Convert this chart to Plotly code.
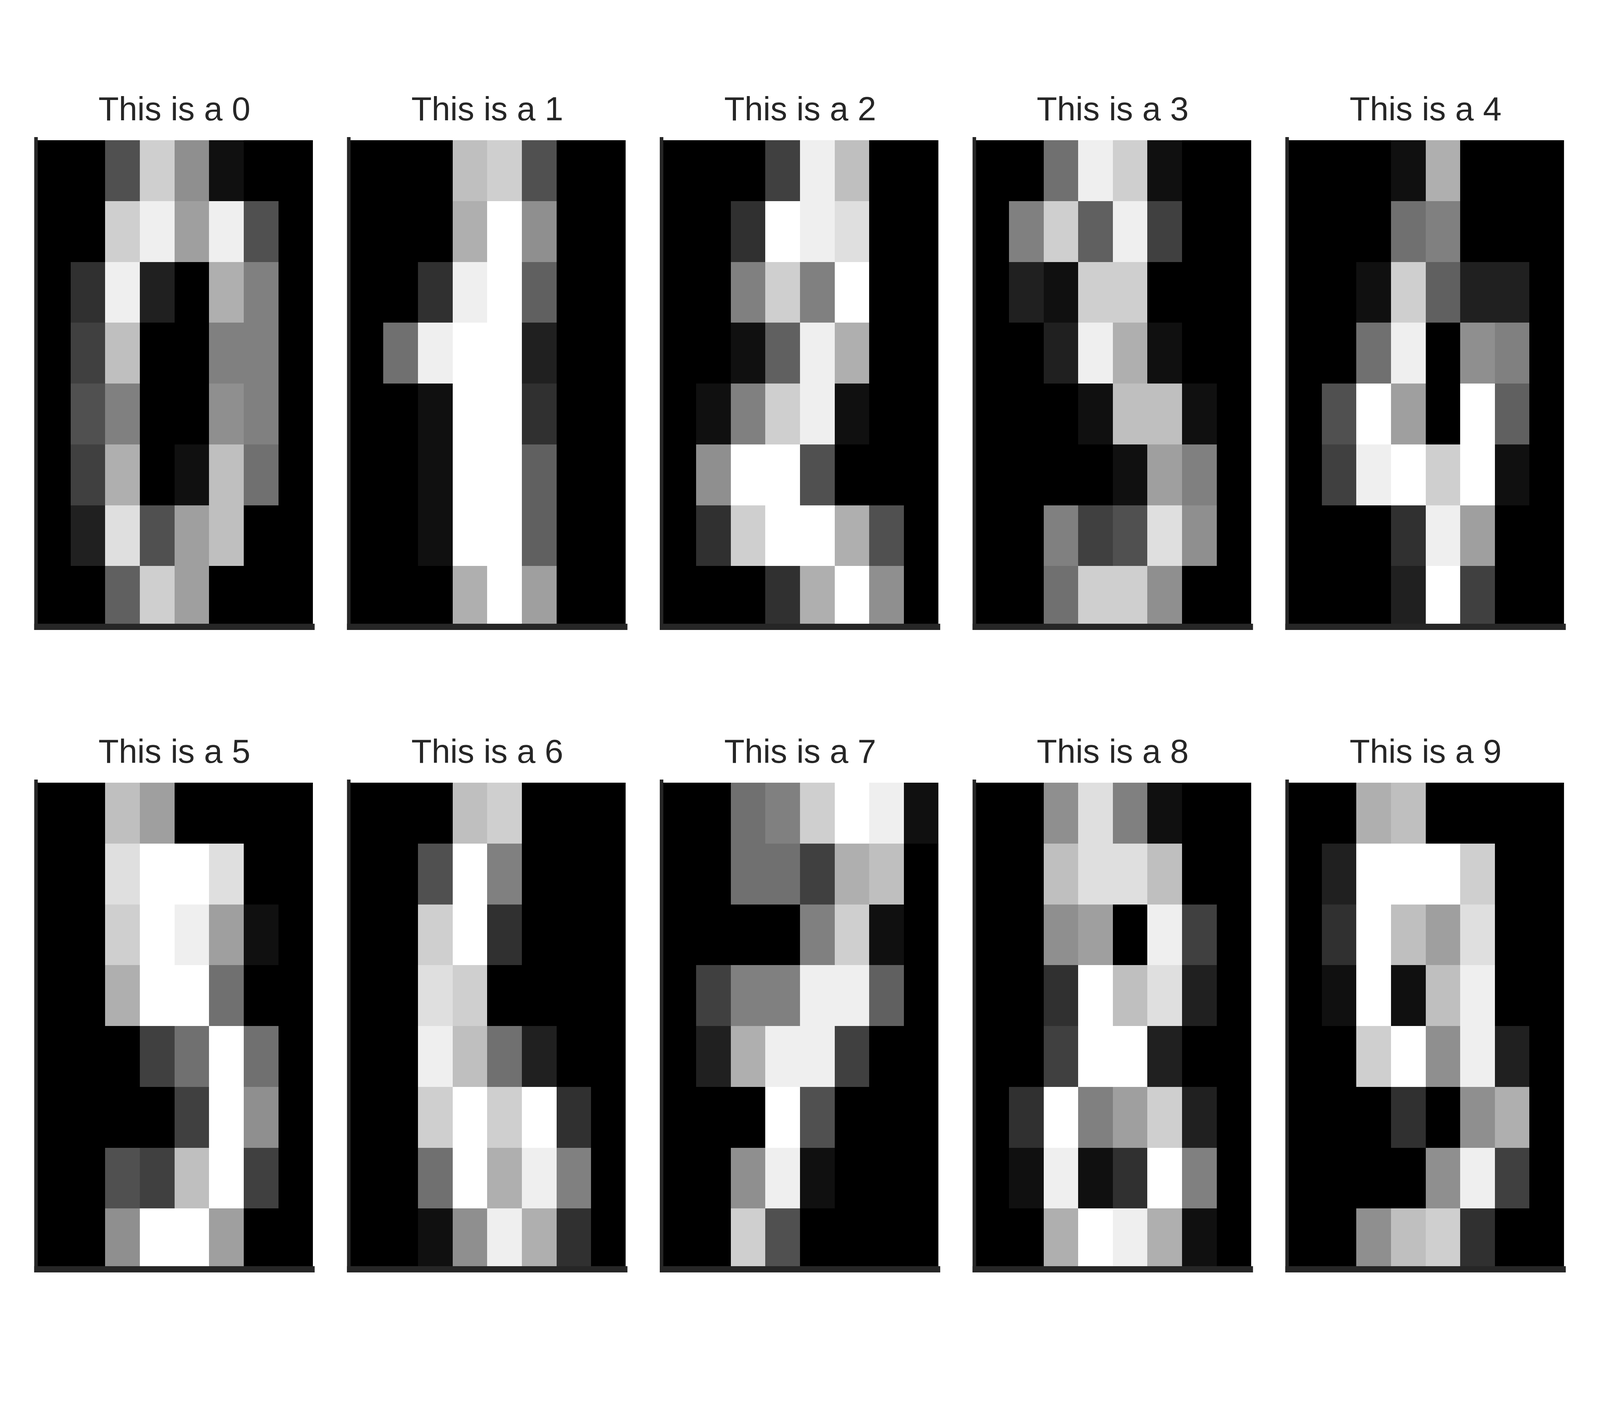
import plotly.graph_objects as go

# ---- data: first ten images of the 8x8 digits dataset (values 0..16) ----
labels = [0, 1, 2, 3, 4, 5, 6, 7, 8, 9]

digit_0 = [[0, 0, 5, 13, 9, 1, 0, 0],
           [0, 0, 13, 15, 10, 15, 5, 0],
           [0, 3, 15, 2, 0, 11, 8, 0],
           [0, 4, 12, 0, 0, 8, 8, 0],
           [0, 5, 8, 0, 0, 9, 8, 0],
           [0, 4, 11, 0, 1, 12, 7, 0],
           [0, 2, 14, 5, 10, 12, 0, 0],
           [0, 0, 6, 13, 10, 0, 0, 0]]
digit_1 = [[0, 0, 0, 12, 13, 5, 0, 0],
           [0, 0, 0, 11, 16, 9, 0, 0],
           [0, 0, 3, 15, 16, 6, 0, 0],
           [0, 7, 15, 16, 16, 2, 0, 0],
           [0, 0, 1, 16, 16, 3, 0, 0],
           [0, 0, 1, 16, 16, 6, 0, 0],
           [0, 0, 1, 16, 16, 6, 0, 0],
           [0, 0, 0, 11, 16, 10, 0, 0]]
digit_2 = [[0, 0, 0, 4, 15, 12, 0, 0],
           [0, 0, 3, 16, 15, 14, 0, 0],
           [0, 0, 8, 13, 8, 16, 0, 0],
           [0, 0, 1, 6, 15, 11, 0, 0],
           [0, 1, 8, 13, 15, 1, 0, 0],
           [0, 9, 16, 16, 5, 0, 0, 0],
           [0, 3, 13, 16, 16, 11, 5, 0],
           [0, 0, 0, 3, 11, 16, 9, 0]]
digit_3 = [[0, 0, 7, 15, 13, 1, 0, 0],
           [0, 8, 13, 6, 15, 4, 0, 0],
           [0, 2, 1, 13, 13, 0, 0, 0],
           [0, 0, 2, 15, 11, 1, 0, 0],
           [0, 0, 0, 1, 12, 12, 1, 0],
           [0, 0, 0, 0, 1, 10, 8, 0],
           [0, 0, 8, 4, 5, 14, 9, 0],
           [0, 0, 7, 13, 13, 9, 0, 0]]
digit_4 = [[0, 0, 0, 1, 11, 0, 0, 0],
           [0, 0, 0, 7, 8, 0, 0, 0],
           [0, 0, 1, 13, 6, 2, 2, 0],
           [0, 0, 7, 15, 0, 9, 8, 0],
           [0, 5, 16, 10, 0, 16, 6, 0],
           [0, 4, 15, 16, 13, 16, 1, 0],
           [0, 0, 0, 3, 15, 10, 0, 0],
           [0, 0, 0, 2, 16, 4, 0, 0]]
digit_5 = [[0, 0, 12, 10, 0, 0, 0, 0],
           [0, 0, 14, 16, 16, 14, 0, 0],
           [0, 0, 13, 16, 15, 10, 1, 0],
           [0, 0, 11, 16, 16, 7, 0, 0],
           [0, 0, 0, 4, 7, 16, 7, 0],
           [0, 0, 0, 0, 4, 16, 9, 0],
           [0, 0, 5, 4, 12, 16, 4, 0],
           [0, 0, 9, 16, 16, 10, 0, 0]]
digit_6 = [[0, 0, 0, 12, 13, 0, 0, 0],
           [0, 0, 5, 16, 8, 0, 0, 0],
           [0, 0, 13, 16, 3, 0, 0, 0],
           [0, 0, 14, 13, 0, 0, 0, 0],
           [0, 0, 15, 12, 7, 2, 0, 0],
           [0, 0, 13, 16, 13, 16, 3, 0],
           [0, 0, 7, 16, 11, 15, 8, 0],
           [0, 0, 1, 9, 15, 11, 3, 0]]
digit_7 = [[0, 0, 7, 8, 13, 16, 15, 1],
           [0, 0, 7, 7, 4, 11, 12, 0],
           [0, 0, 0, 0, 8, 13, 1, 0],
           [0, 4, 8, 8, 15, 15, 6, 0],
           [0, 2, 11, 15, 15, 4, 0, 0],
           [0, 0, 0, 16, 5, 0, 0, 0],
           [0, 0, 9, 15, 1, 0, 0, 0],
           [0, 0, 13, 5, 0, 0, 0, 0]]
digit_8 = [[0, 0, 9, 14, 8, 1, 0, 0],
           [0, 0, 12, 14, 14, 12, 0, 0],
           [0, 0, 9, 10, 0, 15, 4, 0],
           [0, 0, 3, 16, 12, 14, 2, 0],
           [0, 0, 4, 16, 16, 2, 0, 0],
           [0, 3, 16, 8, 10, 13, 2, 0],
           [0, 1, 15, 1, 3, 16, 8, 0],
           [0, 0, 11, 16, 15, 11, 1, 0]]
digit_9 = [[0, 0, 11, 12, 0, 0, 0, 0],
           [0, 2, 16, 16, 16, 13, 0, 0],
           [0, 3, 16, 12, 10, 14, 0, 0],
           [0, 1, 16, 1, 12, 15, 0, 0],
           [0, 0, 13, 16, 9, 15, 2, 0],
           [0, 0, 0, 3, 0, 9, 11, 0],
           [0, 0, 0, 0, 9, 15, 4, 0],
           [0, 0, 9, 12, 13, 3, 0, 0]]

images = [digit_0, digit_1, digit_2, digit_3, digit_4,
          digit_5, digit_6, digit_7, digit_8, digit_9]

# ---- layout (designed on a 7200 x 3600 canvas, expressed as paper fractions) ----
W, H = 7200, 3600
col_left = [162, 1569.5, 2977, 4384.5, 5792]
ax_size = 1246
row_top = [359, 2004]
spine_w = 16
spine_col = "#262626"
title_size = 150
title_gap = 50          # title baseline above the axes top
descent = 0.212         # font descent (em) used to put the baseline in place
font_family = "Liberation Sans, Arial, sans-serif"


def px_x(v):
    return v / W


def px_y(v):
    return 1 - v / H


fig = go.Figure()
shapes = []
annotations = []

for i, img in enumerate(images):
    r, c = divmod(i, 5)
    left = col_left[c]
    top = row_top[r]
    right = left + ax_size
    bottom = top + ax_size
    n = "" if i == 0 else str(i + 1)
    fig.add_trace(go.Heatmap(
        z=img, x=list(range(8)), y=list(range(8)),
        colorscale=[[0, "#000000"], [1, "#ffffff"]],
        zmin=0, zmax=16, showscale=False,
        xaxis="x" + n, yaxis="y" + n, hoverinfo="z"))
    fig.update_layout({
        "xaxis" + n: dict(domain=[px_x(left), px_x(right)], range=[-0.5, 7.5],
                          showgrid=False, zeroline=False, showticklabels=False,
                          ticks="", showline=False, anchor="y" + n),
        "yaxis" + n: dict(domain=[px_y(bottom), px_y(top)], range=[7.5, -0.5],
                          showgrid=False, zeroline=False, showticklabels=False,
                          ticks="", showline=False, anchor="x" + n),
    })
    # left spine
    shapes.append(dict(type="rect", xref="paper", yref="paper", layer="above",
                       x0=px_x(left - spine_w / 2), x1=px_x(left + spine_w / 2),
                       y0=px_y(bottom + spine_w / 2), y1=px_y(top - spine_w / 2),
                       fillcolor=spine_col, line=dict(width=0)))
    # bottom spine
    shapes.append(dict(type="rect", xref="paper", yref="paper", layer="above",
                       x0=px_x(left - spine_w / 2), x1=px_x(right + spine_w / 2),
                       y0=px_y(bottom + spine_w / 2), y1=px_y(bottom - spine_w / 2),
                       fillcolor=spine_col, line=dict(width=0)))
    annotations.append(dict(
        text=f"This is a {labels[i]}", xref="paper", yref="paper",
        x=px_x(left + ax_size / 2), y=px_y(top - title_gap), xanchor="center",
        yanchor="bottom", yshift=-(descent * title_size + 1), showarrow=False,
        font=dict(family=font_family, size=title_size, color=spine_col)))

fig.update_layout(
    width=W, height=H, margin=dict(l=0, r=0, t=0, b=0),
    paper_bgcolor="white", plot_bgcolor="white",
    shapes=shapes, annotations=annotations, showlegend=False)

# fit the figure to the browser viewport, scaling text with it
post_js = """
document.documentElement.style.margin='0';
document.body.style.margin='0';
document.body.style.overflow='hidden';
var gd=document.getElementById('{plot_id}');
var w=window.innerWidth, h=window.innerHeight;
var fs=%f*w/%d;
var upd={width:w,height:h};
for(var i=0;i<%d;i++){
  upd['annotations['+i+'].font.size']=fs;
  upd['annotations['+i+'].yshift']=-(%f*fs+1);
}
Plotly.relayout(gd,upd);
""" % (title_size, W, len(images), descent)

fig.write_html("out.html", post_script=post_js,
               config={"displayModeBar": False, "responsive": False})
